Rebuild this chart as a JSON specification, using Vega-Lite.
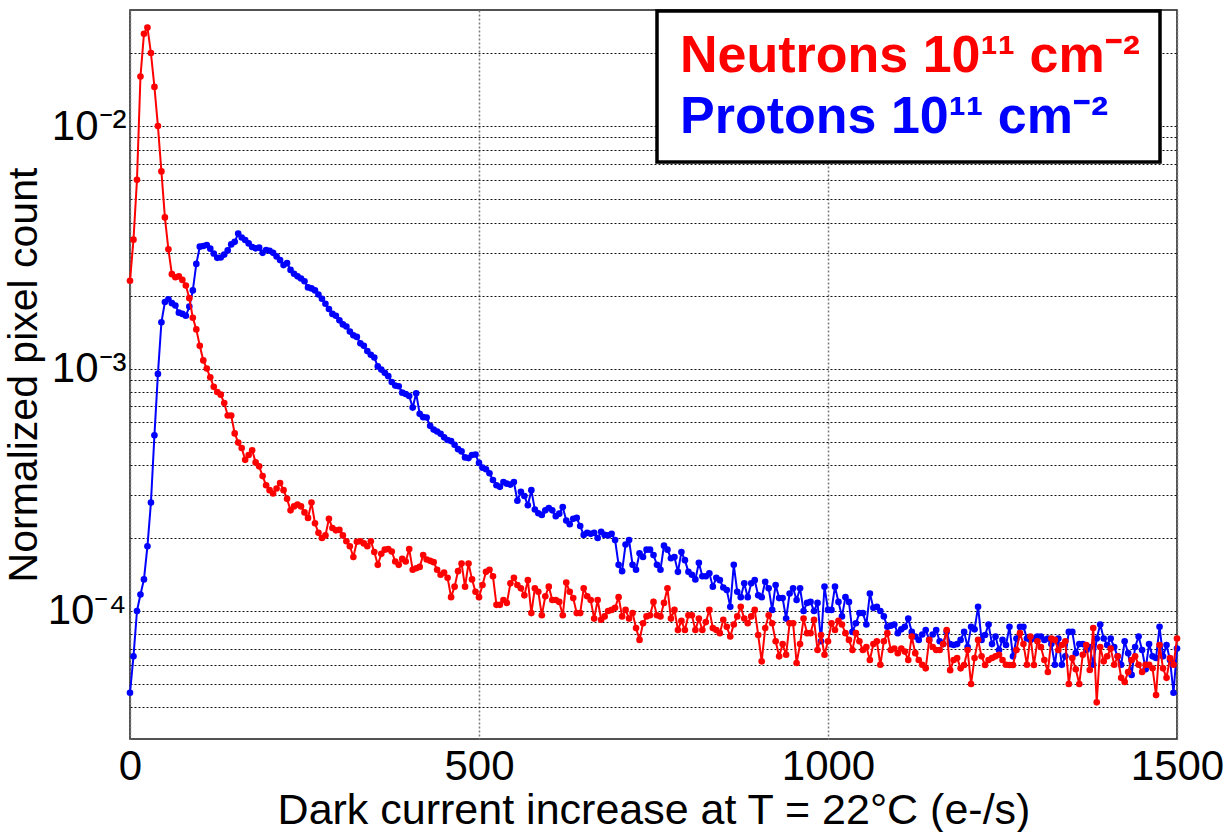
{
"$schema": "https://vega.github.io/schema/vega-lite/v6.json",
"width": 1047, "height": 729,
"autosize": {"type": "none"},
"padding": {"left": 130, "top": 10, "right": 52, "bottom": 93},
"background": "white",
"config": {"font": "Liberation Sans", "view": {"stroke": "#1a1a1a", "strokeWidth": 1.5}, "legend": {"strokeWidth": 3.5}},
"data": {"values": [
{"x":0,"y":2.3e-3,"s":"n"},{"x":5,"y":3.4e-3,"s":"n"},{"x":10,"y":6.0e-3,"s":"n"},{"x":15,"y":1.6e-2,"s":"n"},{"x":20,"y":2.4e-2,"s":"n"},{"x":25,"y":2.55e-2,"s":"n"},{"x":30,"y":2.0e-2,"s":"n"},{"x":35,"y":1.45e-2,"s":"n"},{"x":40,"y":1.0e-2,"s":"n"},{"x":45,"y":6.5e-3,"s":"n"},
{"x":50,"y":4.2e-3,"s":"n"},{"x":55,"y":3.1e-3,"s":"n"},{"x":60,"y":2.45e-3,"s":"n"},{"x":65,"y":2.38e-3,"s":"n"},{"x":70,"y":2.4e-3,"s":"n"},{"x":75,"y":2.32e-3,"s":"n"},{"x":80,"y":2.2e-3,"s":"n"},{"x":85,"y":1.95e-3,"s":"n"},{"x":90,"y":1.62e-3,"s":"n"},{"x":95,"y":1.45e-3,"s":"n"},
{"x":100,"y":1.24e-3,"s":"n"},{"x":105,"y":1.08e-3,"s":"n"},{"x":110,"y":1.0e-3,"s":"n"},{"x":115,"y":9.2e-4,"s":"n"},{"x":120,"y":8.4e-4,"s":"n"},{"x":125,"y":8.0e-4,"s":"n"},{"x":130,"y":7.8e-4,"s":"n"},{"x":135,"y":7.2e-4,"s":"n"},{"x":140,"y":6.4e-4,"s":"n"},{"x":145,"y":6.4e-4,"s":"n"},
{"x":150,"y":5.4e-4,"s":"n"},{"x":155,"y":4.95e-4,"s":"n"},{"x":160,"y":4.7e-4,"s":"n"},{"x":165,"y":4.2e-4,"s":"n"},{"x":170,"y":4.4e-4,"s":"n"},{"x":175,"y":4.6e-4,"s":"n"},{"x":180,"y":4.1e-4,"s":"n"},{"x":185,"y":3.95e-4,"s":"n"},{"x":190,"y":3.6e-4,"s":"n"},{"x":195,"y":3.3e-4,"s":"n"},
{"x":200,"y":3.15e-4,"s":"n"},{"x":205,"y":3.05e-4,"s":"n"},{"x":210,"y":3.2e-4,"s":"n"},{"x":215,"y":3.37e-4,"s":"n"},{"x":220,"y":3.15e-4,"s":"n"},{"x":225,"y":2.9e-4,"s":"n"},{"x":230,"y":2.6e-4,"s":"n"},{"x":235,"y":2.7e-4,"s":"n"},{"x":240,"y":2.75e-4,"s":"n"},{"x":245,"y":2.7e-4,"s":"n"},
{"x":250,"y":2.55e-4,"s":"n"},{"x":255,"y":2.42e-4,"s":"n"},{"x":260,"y":2.8e-4,"s":"n"},{"x":265,"y":2.3e-4,"s":"n"},{"x":270,"y":2.1e-4,"s":"n"},{"x":275,"y":2.0e-4,"s":"n"},{"x":280,"y":2.05e-4,"s":"n"},{"x":285,"y":2.4e-4,"s":"n"},{"x":290,"y":2.2e-4,"s":"n"},{"x":295,"y":2.15e-4,"s":"n"},
{"x":300,"y":2.16e-4,"s":"n"},{"x":305,"y":2.05e-4,"s":"n"},{"x":310,"y":1.94e-4,"s":"n"},{"x":315,"y":1.85e-4,"s":"n"},{"x":320,"y":1.67e-4,"s":"n"},{"x":325,"y":1.93e-4,"s":"n"},{"x":330,"y":1.94e-4,"s":"n"},{"x":335,"y":1.9e-4,"s":"n"},{"x":340,"y":1.85e-4,"s":"n"},{"x":345,"y":1.94e-4,"s":"n"},
{"x":350,"y":1.75e-4,"s":"n"},{"x":355,"y":1.55e-4,"s":"n"},{"x":360,"y":1.72e-4,"s":"n"},{"x":365,"y":1.79e-4,"s":"n"},{"x":370,"y":1.8e-4,"s":"n"},{"x":375,"y":1.76e-4,"s":"n"},{"x":380,"y":1.6e-4,"s":"n"},{"x":385,"y":1.55e-4,"s":"n"},{"x":390,"y":1.64e-4,"s":"n"},{"x":395,"y":1.6e-4,"s":"n"},
{"x":400,"y":1.8e-4,"s":"n"},{"x":405,"y":1.48e-4,"s":"n"},{"x":410,"y":1.5e-4,"s":"n"},{"x":415,"y":1.52e-4,"s":"n"},{"x":420,"y":1.7e-4,"s":"n"},{"x":425,"y":1.63e-4,"s":"n"},{"x":430,"y":1.61e-4,"s":"n"},{"x":435,"y":1.59e-4,"s":"n"},{"x":440,"y":1.48e-4,"s":"n"},{"x":445,"y":1.41e-4,"s":"n"},
{"x":450,"y":1.44e-4,"s":"n"},{"x":455,"y":1.37e-4,"s":"n"},{"x":460,"y":1.14e-4,"s":"n"},{"x":465,"y":1.26e-4,"s":"n"},{"x":470,"y":1.46e-4,"s":"n"},{"x":475,"y":1.57e-4,"s":"n"},{"x":480,"y":1.26e-4,"s":"n"},{"x":485,"y":1.57e-4,"s":"n"},{"x":490,"y":1.35e-4,"s":"n"},{"x":495,"y":1.2e-4,"s":"n"},
{"x":500,"y":1.14e-4,"s":"n"},{"x":505,"y":1.28e-4,"s":"n"},{"x":510,"y":1.45e-4,"s":"n"},{"x":515,"y":1.48e-4,"s":"n"},{"x":520,"y":1.39e-4,"s":"n"},{"x":525,"y":1.06e-4,"s":"n"},{"x":530,"y":1.06e-4,"s":"n"},{"x":535,"y":1.11e-4,"s":"n"},{"x":540,"y":1.08e-4,"s":"n"},{"x":545,"y":1.3e-4,"s":"n"},
{"x":550,"y":1.37e-4,"s":"n"},{"x":555,"y":1.28e-4,"s":"n"},{"x":560,"y":1.24e-4,"s":"n"},{"x":565,"y":1.16e-4,"s":"n"},{"x":570,"y":1.34e-4,"s":"n"},{"x":575,"y":9.8e-5,"s":"n"},{"x":580,"y":1.24e-4,"s":"n"},{"x":585,"y":1.2e-4,"s":"n"},{"x":590,"y":9.6e-5,"s":"n"},{"x":595,"y":1.15e-4,"s":"n"},
{"x":600,"y":1.26e-4,"s":"n"},{"x":605,"y":1.11e-4,"s":"n"},{"x":610,"y":1.11e-4,"s":"n"},{"x":615,"y":1.09e-4,"s":"n"},{"x":620,"y":9.6e-5,"s":"n"},{"x":625,"y":1.31e-4,"s":"n"},{"x":630,"y":1.2e-4,"s":"n"},{"x":635,"y":1.13e-4,"s":"n"},{"x":640,"y":9.8e-5,"s":"n"},{"x":645,"y":9.8e-5,"s":"n"},
{"x":650,"y":1.24e-4,"s":"n"},{"x":655,"y":1.15e-4,"s":"n"},{"x":660,"y":1.11e-4,"s":"n"},{"x":665,"y":9.3e-5,"s":"n"},{"x":670,"y":1.11e-4,"s":"n"},{"x":675,"y":9.2e-5,"s":"n"},{"x":680,"y":9.5e-5,"s":"n"},{"x":685,"y":1.0e-4,"s":"n"},{"x":690,"y":1.01e-4,"s":"n"},{"x":695,"y":1.03e-4,"s":"n"},
{"x":700,"y":1.14e-4,"s":"n"},{"x":705,"y":9.5e-5,"s":"n"},{"x":710,"y":1.01e-4,"s":"n"},{"x":715,"y":9.3e-5,"s":"n"},{"x":720,"y":9.8e-5,"s":"n"},{"x":725,"y":8.5e-5,"s":"n"},{"x":730,"y":7.6e-5,"s":"n"},{"x":735,"y":8.9e-5,"s":"n"},{"x":740,"y":9.5e-5,"s":"n"},{"x":745,"y":9.6e-5,"s":"n"},
{"x":750,"y":1.09e-4,"s":"n"},{"x":755,"y":9.6e-5,"s":"n"},{"x":760,"y":9.5e-5,"s":"n"},{"x":765,"y":1.08e-4,"s":"n"},{"x":770,"y":1.24e-4,"s":"n"},{"x":775,"y":9.3e-5,"s":"n"},{"x":780,"y":1.01e-4,"s":"n"},{"x":785,"y":8.35e-5,"s":"n"},{"x":790,"y":9.1e-5,"s":"n"},{"x":795,"y":8.35e-5,"s":"n"},
{"x":800,"y":9.6e-5,"s":"n"},{"x":805,"y":9.6e-5,"s":"n"},{"x":810,"y":8.35e-5,"s":"n"},{"x":815,"y":9.3e-5,"s":"n"},{"x":820,"y":8.35e-5,"s":"n"},{"x":825,"y":9.0e-5,"s":"n"},{"x":830,"y":1.01e-4,"s":"n"},{"x":835,"y":8.5e-5,"s":"n"},{"x":840,"y":8.35e-5,"s":"n"},{"x":845,"y":8.1e-5,"s":"n"},
{"x":850,"y":9.2e-5,"s":"n"},{"x":855,"y":8.6e-5,"s":"n"},{"x":860,"y":7.85e-5,"s":"n"},{"x":865,"y":8.8e-5,"s":"n"},{"x":870,"y":9.5e-5,"s":"n"},{"x":875,"y":1.04e-4,"s":"n"},{"x":880,"y":9.3e-5,"s":"n"},{"x":885,"y":8.9e-5,"s":"n"},{"x":890,"y":9.5e-5,"s":"n"},{"x":895,"y":1.01e-4,"s":"n"},
{"x":900,"y":7.96e-5,"s":"n"},{"x":905,"y":6.2e-5,"s":"n"},{"x":910,"y":8.5e-5,"s":"n"},{"x":915,"y":9.6e-5,"s":"n"},{"x":920,"y":8.9e-5,"s":"n"},{"x":925,"y":7.5e-5,"s":"n"},{"x":930,"y":6.5e-5,"s":"n"},{"x":935,"y":7.3e-5,"s":"n"},{"x":940,"y":6.6e-5,"s":"n"},{"x":945,"y":8.9e-5,"s":"n"},
{"x":950,"y":8.9e-5,"s":"n"},{"x":955,"y":6.1e-5,"s":"n"},{"x":960,"y":7.3e-5,"s":"n"},{"x":965,"y":9.3e-5,"s":"n"},{"x":970,"y":8.1e-5,"s":"n"},{"x":975,"y":8.1e-5,"s":"n"},{"x":980,"y":9.2e-5,"s":"n"},{"x":985,"y":6.9e-5,"s":"n"},{"x":990,"y":7.96e-5,"s":"n"},{"x":995,"y":6.6e-5,"s":"n"},
{"x":1000,"y":7.5e-5,"s":"n"},{"x":1005,"y":8.9e-5,"s":"n"},{"x":1010,"y":8.35e-5,"s":"n"},{"x":1015,"y":9.1e-5,"s":"n"},{"x":1020,"y":8.8e-5,"s":"n"},{"x":1025,"y":8.1e-5,"s":"n"},{"x":1030,"y":7.6e-5,"s":"n"},{"x":1035,"y":6.9e-5,"s":"n"},{"x":1040,"y":8.1e-5,"s":"n"},{"x":1045,"y":7.5e-5,"s":"n"},
{"x":1050,"y":6.9e-5,"s":"n"},{"x":1055,"y":7.1e-5,"s":"n"},{"x":1060,"y":6.28e-5,"s":"n"},{"x":1065,"y":7.3e-5,"s":"n"},{"x":1070,"y":7.5e-5,"s":"n"},{"x":1075,"y":6.0e-5,"s":"n"},{"x":1080,"y":7.5e-5,"s":"n"},{"x":1085,"y":8.1e-5,"s":"n"},{"x":1090,"y":6.9e-5,"s":"n"},{"x":1095,"y":7.0e-5,"s":"n"},
{"x":1100,"y":6.7e-5,"s":"n"},{"x":1105,"y":7.0e-5,"s":"n"},{"x":1110,"y":6.8e-5,"s":"n"},{"x":1115,"y":6.28e-5,"s":"n"},{"x":1120,"y":7.85e-5,"s":"n"},{"x":1125,"y":6.7e-5,"s":"n"},{"x":1130,"y":6.28e-5,"s":"n"},{"x":1135,"y":6.0e-5,"s":"n"},{"x":1140,"y":5.8e-5,"s":"n"},{"x":1145,"y":7.6e-5,"s":"n"},
{"x":1150,"y":7.1e-5,"s":"n"},{"x":1155,"y":6.9e-5,"s":"n"},{"x":1160,"y":6.9e-5,"s":"n"},{"x":1165,"y":7.3e-5,"s":"n"},{"x":1170,"y":8.35e-5,"s":"n"},{"x":1175,"y":5.7e-5,"s":"n"},{"x":1180,"y":6.28e-5,"s":"n"},{"x":1185,"y":6.4e-5,"s":"n"},{"x":1190,"y":5.8e-5,"s":"n"},{"x":1195,"y":5.99e-5,"s":"n"},
{"x":1200,"y":6.9e-5,"s":"n"},{"x":1205,"y":5.0e-5,"s":"n"},{"x":1210,"y":6.4e-5,"s":"n"},{"x":1215,"y":7.6e-5,"s":"n"},{"x":1220,"y":6.5e-5,"s":"n"},{"x":1225,"y":5.99e-5,"s":"n"},{"x":1230,"y":6.28e-5,"s":"n"},{"x":1235,"y":6.4e-5,"s":"n"},{"x":1240,"y":6.5e-5,"s":"n"},{"x":1245,"y":6.6e-5,"s":"n"},
{"x":1250,"y":6.28e-5,"s":"n"},{"x":1255,"y":6.0e-5,"s":"n"},{"x":1260,"y":5.99e-5,"s":"n"},{"x":1265,"y":5.99e-5,"s":"n"},{"x":1270,"y":6.9e-5,"s":"n"},{"x":1275,"y":8.1e-5,"s":"n"},{"x":1280,"y":7.3e-5,"s":"n"},{"x":1285,"y":6.0e-5,"s":"n"},{"x":1290,"y":7.85e-5,"s":"n"},{"x":1295,"y":5.99e-5,"s":"n"},
{"x":1300,"y":7.5e-5,"s":"n"},{"x":1305,"y":7.1e-5,"s":"n"},{"x":1310,"y":6.28e-5,"s":"n"},{"x":1315,"y":5.6e-5,"s":"n"},{"x":1320,"y":7.7e-5,"s":"n"},{"x":1325,"y":7.6e-5,"s":"n"},{"x":1330,"y":6.9e-5,"s":"n"},{"x":1335,"y":7.24e-5,"s":"n"},{"x":1340,"y":7.5e-5,"s":"n"},{"x":1345,"y":5.0e-5,"s":"n"},
{"x":1350,"y":6.4e-5,"s":"n"},{"x":1355,"y":5.75e-5,"s":"n"},{"x":1360,"y":5.0e-5,"s":"n"},{"x":1365,"y":6.6e-5,"s":"n"},{"x":1370,"y":7.24e-5,"s":"n"},{"x":1375,"y":5.71e-5,"s":"n"},{"x":1380,"y":8.5e-5,"s":"n"},{"x":1385,"y":4.2e-5,"s":"n"},{"x":1390,"y":7.1e-5,"s":"n"},{"x":1395,"y":6.2e-5,"s":"n"},
{"x":1400,"y":6.5e-5,"s":"n"},{"x":1405,"y":7.0e-5,"s":"n"},{"x":1410,"y":6.0e-5,"s":"n"},{"x":1415,"y":6.5e-5,"s":"n"},{"x":1420,"y":5.3e-5,"s":"n"},{"x":1425,"y":5.1e-5,"s":"n"},{"x":1430,"y":5.6e-5,"s":"n"},{"x":1435,"y":6.28e-5,"s":"n"},{"x":1440,"y":6.5e-5,"s":"n"},{"x":1445,"y":6.0e-5,"s":"n"},
{"x":1450,"y":5.6e-5,"s":"n"},{"x":1455,"y":6.0e-5,"s":"n"},{"x":1460,"y":6.0e-5,"s":"n"},{"x":1465,"y":5.8e-5,"s":"n"},{"x":1470,"y":4.5e-5,"s":"n"},{"x":1475,"y":7.24e-5,"s":"n"},{"x":1480,"y":5.8e-5,"s":"n"},{"x":1485,"y":5.3e-5,"s":"n"},{"x":1490,"y":6.4e-5,"s":"n"},{"x":1495,"y":6.0e-5,"s":"n"},
{"x":1500,"y":7.7e-5,"s":"n"},
{"x":0,"y":4.6e-5,"s":"p"},{"x":5,"y":6.5e-5,"s":"p"},{"x":10,"y":1.0e-4,"s":"p"},{"x":15,"y":1.17e-4,"s":"p"},{"x":20,"y":1.35e-4,"s":"p"},{"x":25,"y":1.85e-4,"s":"p"},{"x":30,"y":2.8e-4,"s":"p"},{"x":35,"y":5.3e-4,"s":"p"},{"x":40,"y":9.5e-4,"s":"p"},{"x":45,"y":1.55e-3,"s":"p"},
{"x":50,"y":1.88e-3,"s":"p"},{"x":55,"y":1.93e-3,"s":"p"},{"x":60,"y":1.86e-3,"s":"p"},{"x":65,"y":1.82e-3,"s":"p"},{"x":70,"y":1.7e-3,"s":"p"},{"x":75,"y":1.68e-3,"s":"p"},{"x":80,"y":1.65e-3,"s":"p"},{"x":85,"y":1.8e-3,"s":"p"},{"x":90,"y":2.1e-3,"s":"p"},{"x":95,"y":2.7e-3,"s":"p"},
{"x":100,"y":3.18e-3,"s":"p"},{"x":105,"y":3.2e-3,"s":"p"},{"x":110,"y":3.23e-3,"s":"p"},{"x":115,"y":3.12e-3,"s":"p"},{"x":120,"y":2.98e-3,"s":"p"},{"x":125,"y":2.86e-3,"s":"p"},{"x":130,"y":2.87e-3,"s":"p"},{"x":135,"y":2.95e-3,"s":"p"},{"x":140,"y":3.07e-3,"s":"p"},{"x":145,"y":3.25e-3,"s":"p"},
{"x":150,"y":3.33e-3,"s":"p"},{"x":155,"y":3.6e-3,"s":"p"},{"x":160,"y":3.47e-3,"s":"p"},{"x":165,"y":3.39e-3,"s":"p"},{"x":170,"y":3.28e-3,"s":"p"},{"x":175,"y":3.17e-3,"s":"p"},{"x":180,"y":3.13e-3,"s":"p"},{"x":185,"y":3.15e-3,"s":"p"},{"x":190,"y":3.0e-3,"s":"p"},{"x":195,"y":3.08e-3,"s":"p"},
{"x":200,"y":3.06e-3,"s":"p"},{"x":205,"y":3.0e-3,"s":"p"},{"x":210,"y":2.9e-3,"s":"p"},{"x":215,"y":2.8e-3,"s":"p"},{"x":220,"y":2.67e-3,"s":"p"},{"x":225,"y":2.72e-3,"s":"p"},{"x":230,"y":2.55e-3,"s":"p"},{"x":235,"y":2.46e-3,"s":"p"},{"x":240,"y":2.4e-3,"s":"p"},{"x":245,"y":2.35e-3,"s":"p"},
{"x":250,"y":2.29e-3,"s":"p"},{"x":255,"y":2.16e-3,"s":"p"},{"x":260,"y":2.14e-3,"s":"p"},{"x":265,"y":2.1e-3,"s":"p"},{"x":270,"y":2.02e-3,"s":"p"},{"x":275,"y":1.94e-3,"s":"p"},{"x":280,"y":1.85e-3,"s":"p"},{"x":285,"y":1.76e-3,"s":"p"},{"x":290,"y":1.68e-3,"s":"p"},{"x":295,"y":1.65e-3,"s":"p"},
{"x":300,"y":1.58e-3,"s":"p"},{"x":305,"y":1.52e-3,"s":"p"},{"x":310,"y":1.49e-3,"s":"p"},{"x":315,"y":1.42e-3,"s":"p"},{"x":320,"y":1.37e-3,"s":"p"},{"x":325,"y":1.35e-3,"s":"p"},{"x":330,"y":1.27e-3,"s":"p"},{"x":335,"y":1.24e-3,"s":"p"},{"x":340,"y":1.18e-3,"s":"p"},{"x":345,"y":1.14e-3,"s":"p"},
{"x":350,"y":1.11e-3,"s":"p"},{"x":355,"y":1.02e-3,"s":"p"},{"x":360,"y":9.9e-4,"s":"p"},{"x":365,"y":9.6e-4,"s":"p"},{"x":370,"y":9.3e-4,"s":"p"},{"x":375,"y":8.8e-4,"s":"p"},{"x":380,"y":8.5e-4,"s":"p"},{"x":385,"y":8.45e-4,"s":"p"},{"x":390,"y":7.95e-4,"s":"p"},{"x":395,"y":7.85e-4,"s":"p"},
{"x":400,"y":7.7e-4,"s":"p"},{"x":405,"y":6.9e-4,"s":"p"},{"x":410,"y":7.9e-4,"s":"p"},{"x":415,"y":6.5e-4,"s":"p"},{"x":420,"y":6.3e-4,"s":"p"},{"x":425,"y":6.28e-4,"s":"p"},{"x":430,"y":5.8e-4,"s":"p"},{"x":435,"y":5.6e-4,"s":"p"},{"x":440,"y":5.5e-4,"s":"p"},{"x":445,"y":5.38e-4,"s":"p"},
{"x":450,"y":5.2e-4,"s":"p"},{"x":455,"y":5.07e-4,"s":"p"},{"x":460,"y":5.02e-4,"s":"p"},{"x":465,"y":4.85e-4,"s":"p"},{"x":470,"y":4.65e-4,"s":"p"},{"x":475,"y":4.55e-4,"s":"p"},{"x":480,"y":4.3e-4,"s":"p"},{"x":485,"y":4.27e-4,"s":"p"},{"x":490,"y":4.4e-4,"s":"p"},{"x":495,"y":4.42e-4,"s":"p"},
{"x":500,"y":4.08e-4,"s":"p"},{"x":505,"y":3.9e-4,"s":"p"},{"x":510,"y":3.84e-4,"s":"p"},{"x":515,"y":3.7e-4,"s":"p"},{"x":520,"y":3.47e-4,"s":"p"},{"x":525,"y":3.3e-4,"s":"p"},{"x":530,"y":3.25e-4,"s":"p"},{"x":535,"y":3.4e-4,"s":"p"},{"x":540,"y":3.35e-4,"s":"p"},{"x":545,"y":3.32e-4,"s":"p"},
{"x":550,"y":3.4e-4,"s":"p"},{"x":555,"y":2.85e-4,"s":"p"},{"x":560,"y":3.1e-4,"s":"p"},{"x":565,"y":2.98e-4,"s":"p"},{"x":570,"y":2.73e-4,"s":"p"},{"x":575,"y":3.15e-4,"s":"p"},{"x":580,"y":2.62e-4,"s":"p"},{"x":585,"y":2.53e-4,"s":"p"},{"x":590,"y":2.49e-4,"s":"p"},{"x":595,"y":2.6e-4,"s":"p"},
{"x":600,"y":2.66e-4,"s":"p"},{"x":605,"y":2.6e-4,"s":"p"},{"x":610,"y":2.46e-4,"s":"p"},{"x":615,"y":2.52e-4,"s":"p"},{"x":620,"y":2.68e-4,"s":"p"},{"x":625,"y":2.36e-4,"s":"p"},{"x":630,"y":2.28e-4,"s":"p"},{"x":635,"y":2.4e-4,"s":"p"},{"x":640,"y":2.42e-4,"s":"p"},{"x":645,"y":2.24e-4,"s":"p"},
{"x":650,"y":2.06e-4,"s":"p"},{"x":655,"y":2.1e-4,"s":"p"},{"x":660,"y":2.08e-4,"s":"p"},{"x":665,"y":2.1e-4,"s":"p"},{"x":670,"y":2.0e-4,"s":"p"},{"x":675,"y":2.12e-4,"s":"p"},{"x":680,"y":2.06e-4,"s":"p"},{"x":685,"y":2.05e-4,"s":"p"},{"x":690,"y":2.08e-4,"s":"p"},{"x":695,"y":1.96e-4,"s":"p"},
{"x":700,"y":1.55e-4,"s":"p"},{"x":705,"y":1.46e-4,"s":"p"},{"x":710,"y":1.88e-4,"s":"p"},{"x":715,"y":1.96e-4,"s":"p"},{"x":720,"y":1.55e-4,"s":"p"},{"x":725,"y":1.48e-4,"s":"p"},{"x":730,"y":1.73e-4,"s":"p"},{"x":735,"y":1.67e-4,"s":"p"},{"x":740,"y":1.79e-4,"s":"p"},{"x":745,"y":1.79e-4,"s":"p"},
{"x":750,"y":1.7e-4,"s":"p"},{"x":755,"y":1.55e-4,"s":"p"},{"x":760,"y":1.48e-4,"s":"p"},{"x":765,"y":1.86e-4,"s":"p"},{"x":770,"y":1.79e-4,"s":"p"},{"x":775,"y":1.65e-4,"s":"p"},{"x":780,"y":1.67e-4,"s":"p"},{"x":785,"y":1.45e-4,"s":"p"},{"x":790,"y":1.75e-4,"s":"p"},{"x":795,"y":1.62e-4,"s":"p"},
{"x":800,"y":1.45e-4,"s":"p"},{"x":805,"y":1.41e-4,"s":"p"},{"x":810,"y":1.35e-4,"s":"p"},{"x":815,"y":1.58e-4,"s":"p"},{"x":820,"y":1.39e-4,"s":"p"},{"x":825,"y":1.39e-4,"s":"p"},{"x":830,"y":1.43e-4,"s":"p"},{"x":835,"y":1.26e-4,"s":"p"},{"x":840,"y":1.37e-4,"s":"p"},{"x":845,"y":1.34e-4,"s":"p"},
{"x":850,"y":1.25e-4,"s":"p"},{"x":855,"y":1.22e-4,"s":"p"},{"x":860,"y":1.04e-4,"s":"p"},{"x":865,"y":1.55e-4,"s":"p"},{"x":870,"y":1.2e-4,"s":"p"},{"x":875,"y":1.14e-4,"s":"p"},{"x":880,"y":1.3e-4,"s":"p"},{"x":885,"y":1.14e-4,"s":"p"},{"x":890,"y":1.3e-4,"s":"p"},{"x":895,"y":1.34e-4,"s":"p"},
{"x":900,"y":1.16e-4,"s":"p"},{"x":905,"y":1.14e-4,"s":"p"},{"x":910,"y":1.32e-4,"s":"p"},{"x":915,"y":1.24e-4,"s":"p"},{"x":920,"y":1.01e-4,"s":"p"},{"x":925,"y":1.28e-4,"s":"p"},{"x":930,"y":1.13e-4,"s":"p"},{"x":935,"y":1.13e-4,"s":"p"},{"x":940,"y":9.3e-5,"s":"p"},{"x":945,"y":1.18e-4,"s":"p"},
{"x":950,"y":1.24e-4,"s":"p"},{"x":955,"y":1.11e-4,"s":"p"},{"x":960,"y":1.24e-4,"s":"p"},{"x":965,"y":1.0e-4,"s":"p"},{"x":970,"y":1.08e-4,"s":"p"},{"x":975,"y":1.09e-4,"s":"p"},{"x":980,"y":1.0e-4,"s":"p"},{"x":985,"y":1.08e-4,"s":"p"},{"x":990,"y":7.5e-5,"s":"p"},{"x":995,"y":1.26e-4,"s":"p"},
{"x":1000,"y":1.01e-4,"s":"p"},{"x":1005,"y":1.01e-4,"s":"p"},{"x":1010,"y":1.26e-4,"s":"p"},{"x":1015,"y":1.09e-4,"s":"p"},{"x":1020,"y":9.5e-5,"s":"p"},{"x":1025,"y":1.14e-4,"s":"p"},{"x":1030,"y":1.09e-4,"s":"p"},{"x":1035,"y":8.2e-5,"s":"p"},{"x":1040,"y":8.9e-5,"s":"p"},{"x":1045,"y":9.8e-5,"s":"p"},
{"x":1050,"y":9.8e-5,"s":"p"},{"x":1055,"y":8.8e-5,"s":"p"},{"x":1060,"y":1.18e-4,"s":"p"},{"x":1065,"y":1.03e-4,"s":"p"},{"x":1070,"y":1.04e-4,"s":"p"},{"x":1075,"y":1.0e-4,"s":"p"},{"x":1080,"y":9.5e-5,"s":"p"},{"x":1085,"y":8.6e-5,"s":"p"},{"x":1090,"y":8.7e-5,"s":"p"},{"x":1095,"y":8.8e-5,"s":"p"},
{"x":1100,"y":8.1e-5,"s":"p"},{"x":1105,"y":8.4e-5,"s":"p"},{"x":1110,"y":8.6e-5,"s":"p"},{"x":1115,"y":9.3e-5,"s":"p"},{"x":1120,"y":8.2e-5,"s":"p"},{"x":1125,"y":7.85e-5,"s":"p"},{"x":1130,"y":7.6e-5,"s":"p"},{"x":1135,"y":8.0e-5,"s":"p"},{"x":1140,"y":8.35e-5,"s":"p"},{"x":1145,"y":7.6e-5,"s":"p"},
{"x":1150,"y":8.0e-5,"s":"p"},{"x":1155,"y":8.35e-5,"s":"p"},{"x":1160,"y":7.5e-5,"s":"p"},{"x":1165,"y":7.3e-5,"s":"p"},{"x":1170,"y":8.2e-5,"s":"p"},{"x":1175,"y":7.3e-5,"s":"p"},{"x":1180,"y":7.24e-5,"s":"p"},{"x":1185,"y":7.3e-5,"s":"p"},{"x":1190,"y":7.6e-5,"s":"p"},{"x":1195,"y":8.2e-5,"s":"p"},
{"x":1200,"y":7.1e-5,"s":"p"},{"x":1205,"y":8.6e-5,"s":"p"},{"x":1210,"y":8.4e-5,"s":"p"},{"x":1215,"y":1.04e-4,"s":"p"},{"x":1220,"y":7.6e-5,"s":"p"},{"x":1225,"y":7.96e-5,"s":"p"},{"x":1230,"y":8.8e-5,"s":"p"},{"x":1235,"y":7.3e-5,"s":"p"},{"x":1240,"y":7.85e-5,"s":"p"},{"x":1245,"y":6.9e-5,"s":"p"},
{"x":1250,"y":7.6e-5,"s":"p"},{"x":1255,"y":7.24e-5,"s":"p"},{"x":1260,"y":8.6e-5,"s":"p"},{"x":1265,"y":6.5e-5,"s":"p"},{"x":1270,"y":7.7e-5,"s":"p"},{"x":1275,"y":8.6e-5,"s":"p"},{"x":1280,"y":8.6e-5,"s":"p"},{"x":1285,"y":7.7e-5,"s":"p"},{"x":1290,"y":7.6e-5,"s":"p"},{"x":1295,"y":7.7e-5,"s":"p"},
{"x":1300,"y":7.85e-5,"s":"p"},{"x":1305,"y":7.85e-5,"s":"p"},{"x":1310,"y":7.6e-5,"s":"p"},{"x":1315,"y":7.7e-5,"s":"p"},{"x":1320,"y":7.3e-5,"s":"p"},{"x":1325,"y":6.0e-5,"s":"p"},{"x":1330,"y":7.7e-5,"s":"p"},{"x":1335,"y":6.0e-5,"s":"p"},{"x":1340,"y":6.5e-5,"s":"p"},{"x":1345,"y":8.2e-5,"s":"p"},
{"x":1350,"y":8.2e-5,"s":"p"},{"x":1355,"y":6.7e-5,"s":"p"},{"x":1360,"y":7.3e-5,"s":"p"},{"x":1365,"y":7.3e-5,"s":"p"},{"x":1370,"y":6.9e-5,"s":"p"},{"x":1375,"y":7.1e-5,"s":"p"},{"x":1380,"y":6.0e-5,"s":"p"},{"x":1385,"y":7.7e-5,"s":"p"},{"x":1390,"y":8.8e-5,"s":"p"},{"x":1395,"y":7.7e-5,"s":"p"},
{"x":1400,"y":7.24e-5,"s":"p"},{"x":1405,"y":7.7e-5,"s":"p"},{"x":1410,"y":7.1e-5,"s":"p"},{"x":1415,"y":6.5e-5,"s":"p"},{"x":1420,"y":6.0e-5,"s":"p"},{"x":1425,"y":7.5e-5,"s":"p"},{"x":1430,"y":6.7e-5,"s":"p"},{"x":1435,"y":5.45e-5,"s":"p"},{"x":1440,"y":7.1e-5,"s":"p"},{"x":1445,"y":7.85e-5,"s":"p"},
{"x":1450,"y":6.9e-5,"s":"p"},{"x":1455,"y":5.75e-5,"s":"p"},{"x":1460,"y":7.3e-5,"s":"p"},{"x":1465,"y":6.5e-5,"s":"p"},{"x":1470,"y":6.4e-5,"s":"p"},{"x":1475,"y":8.6e-5,"s":"p"},{"x":1480,"y":6.5e-5,"s":"p"},{"x":1485,"y":7.24e-5,"s":"p"},{"x":1490,"y":6.28e-5,"s":"p"},{"x":1495,"y":4.6e-5,"s":"p"},
{"x":1500,"y":7.0e-5,"s":"p"}
]},
"encoding": {
  "x": {"field": "x", "type": "quantitative", "scale": {"domain": [0, 1500], "nice": false},
    "axis": {"values": [0, 500, 1000, 1500], "format": "d", "grid": true, "gridColor": "#7a7a7a", "gridDash": [2, 2], "gridWidth": 1.5,
      "domain": false, "ticks": false, "labelFontSize": 42, "labelColor": "#000000", "labelPadding": 7, "labelFlush": false,
      "title": "Dark current increase at T = 22°C (e-/s)", "titleFontSize": 43, "titleFontWeight": "normal", "titleColor": "#000000", "titlePadding": 2}},
  "y": {"field": "y", "type": "quantitative", "scale": {"type": "log", "domain": [2.965e-5, 0.0301], "nice": false},
    "axis": {"values": [0.00004, 0.00005, 0.00006, 0.00007, 0.00008, 0.00009, 0.0001, 0.0002, 0.0003, 0.0004, 0.0005, 0.0006, 0.0007, 0.0008, 0.0009, 0.001, 0.002, 0.003, 0.004, 0.005, 0.006, 0.007, 0.008, 0.009, 0.01, 0.02],
      "labelExpr": "datum.value === 0.01 ? '10⁻²' : datum.value === 0.001 ? '10⁻³' : datum.value === 0.0001 ? '10⁻⁴' : ''",
      "labelOverlap": false, "labelBound": false, "labelFlush": false,
      "grid": true, "gridColor": "#111111", "gridDash": [2, 2], "gridWidth": 1,
      "domain": false, "ticks": false, "labelFontSize": 42, "labelColor": "#000000", "labelPadding": 4,
      "title": "Normalized pixel count", "titleFontSize": 41, "titleFontWeight": "normal", "titleColor": "#000000", "titlePadding": 2}},
  "color": {"field": "s", "type": "nominal", "scale": {"domain": ["n", "p"], "range": ["#ff0000", "#0000ff"]},
    "legend": {"title": null, "orient": "none", "legendX": 527, "legendY": 1,
      "labelExpr": "datum.value === 'n' ? 'Neutrons 10¹¹ cm⁻²' : 'Protons 10¹¹ cm⁻²'",
      "labelColor": {"expr": "datum.value === 'n' ? '#ff0000' : '#0000ff'"},
      "labelFontSize": 52, "labelFontWeight": "bold", "labelLimit": 2000, "labelOffset": -48,
      "symbolSize": 0, "symbolStrokeWidth": 0, "symbolOpacity": 0,
      "rowPadding": 9, "padding": 19, "strokeColor": "#000000", "fillColor": "#ffffff"}}
},
"layer": [
  {"transform": [{"filter": "datum.s === 'p'"}], "mark": {"type": "line", "strokeWidth": 2, "point": {"filled": true, "size": 44}}},
  {"transform": [{"filter": "datum.s === 'n'"}], "mark": {"type": "line", "strokeWidth": 2, "point": {"filled": true, "size": 44}}}
]
}
